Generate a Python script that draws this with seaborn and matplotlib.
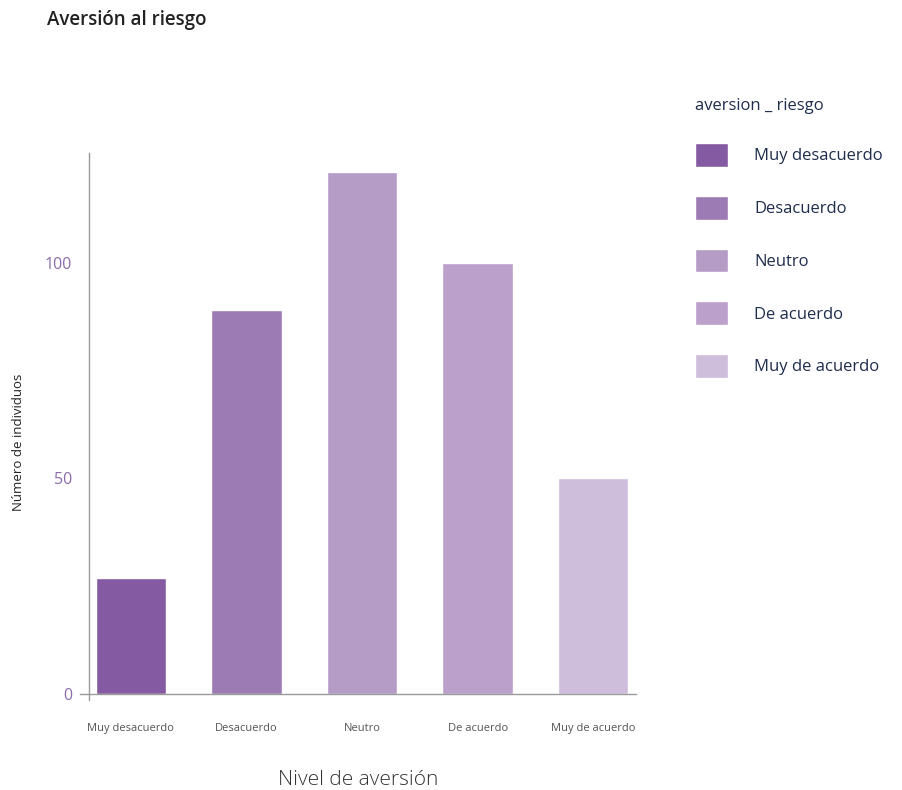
"""
Bar chart of risk aversion levels (Aversión al riesgo).
"""

import matplotlib
matplotlib.use('Agg')
import matplotlib.pyplot as plt
import pandas as pd
import seaborn as sns

# Data
categories = ['Muy desacuerdo', 'Desacuerdo', 'Neutro', 'De acuerdo', 'Muy de acuerdo']
counts = [27, 89, 121, 100, 50]
bar_colors = ['#845aa2', '#9c7bb4', '#b49cc7', '#baa0cb', '#cfbddc']
y_ticks = [0, 50, 100]

df = pd.DataFrame({'aversion_riesgo': categories, 'individuos': counts})

sns.set_theme(style='white')
plt.rcParams['font.family'] = ['Open Sans', 'DejaVu Sans']

fig = plt.figure(figsize=(9.02, 7.90), dpi=100)
ax = fig.add_axes([0.0887, 0.1139, 0.6164, 0.6924])

sns.barplot(data=df, x='aversion_riesgo', y='individuos', hue='aversion_riesgo',
            palette=dict(zip(categories, bar_colors)), order=categories,
            hue_order=categories, width=0.61, dodge=False, legend=True,
            saturation=1, ax=ax)

# Axis limits and spines (axes cross slightly like the original)
ax.set_xlim(-0.44, 4.37)
ax.set_ylim(-1.4, 125.5)
ax.spines['left'].set_position(('data', -0.364))
ax.spines['bottom'].set_position(('data', 0))
for side in ['top', 'right']:
    ax.spines[side].set_visible(False)
for side in ['left', 'bottom']:
    ax.spines[side].set_color('#9a9a9a')
    ax.spines[side].set_linewidth(1.0)

ax.set_yticks(y_ticks)
ax.set_yticklabels([str(t) for t in y_ticks], color='#8a6bab', fontsize=11.5)
ax.tick_params(axis='y', length=0, pad=12)
ax.tick_params(axis='x', length=0, pad=21, labelsize=8, labelcolor='#555555')

ax.set_xlabel('Nivel de aversión', fontsize=15, color='#333333',
              fontweight='light', labelpad=26)
ax.set_ylabel('')
fig.text(0.02, 0.44, 'Número de individuos', rotation=90, fontsize=9.5,
         color='#222222', ha='center', va='center')

fig.text(0.052, 0.975, 'Aversión al riesgo', fontsize=13.5, color='#222222',
         fontweight='semibold', ha='left', va='center')

# Legend on the right
handles, labels = ax.get_legend_handles_labels()
ax.legend(handles, labels, title='aversion _ riesgo', loc='upper left',
          bbox_to_anchor=(0.770, 0.876), bbox_transform=fig.transFigure,
          frameon=False, fontsize=12, title_fontsize=12, borderpad=0,
          borderaxespad=0, handlelength=1.98, handleheight=1.82,
          labelspacing=1.74, handletextpad=1.6, alignment='left',
          labelcolor='#1f2d4d')
ax.get_legend().get_title().set_color('#1f2d4d')

fig.savefig('out.png', dpi=100)
plt.close(fig)
